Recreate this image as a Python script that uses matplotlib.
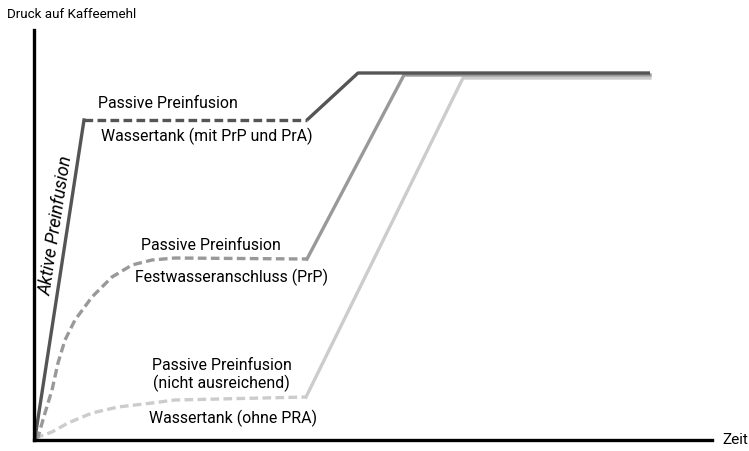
import matplotlib
matplotlib.use('agg')
import matplotlib.pyplot as plt

plt.rcParams['font.family'] = ['Roboto', 'DejaVu Sans']

# chart units: x = time, y = pressure (arbitrary)
# dark: water tank with PrP and PrA
dark_active_x = [1, 50]
dark_active_y = [2, 320]
dark_pass_x = [50, 273]
dark_pass_y = [320, 320]
dark_main_x = [273, 324, 616]
dark_main_y = [320, 367, 367]

# medium: fixed water connection (PrP)
mid_pass_x = [1, 4, 11, 18, 24, 31, 41, 58, 78, 98, 118, 141, 273]
mid_pass_y = [2, 3, 27, 50, 77, 100, 120, 143, 163, 175, 180, 182, 181]
mid_main_x = [273, 370, 616]
mid_main_y = [181, 365, 365]

# light: water tank without PrA
light_pass_x = [1, 4, 18, 34, 58, 84, 118, 141, 272]
light_pass_y = [2, 3, 8, 17, 27, 33, 37, 40, 43]
light_main_x = [272, 429, 616]
light_main_y = [43, 362, 362]

c_dark = '#555555'
c_mid = '#999999'
c_light = '#cccccc'
lw = 2.4
dash = (0, (2.6, 1.3))

fig = plt.figure(figsize=(7.49, 4.51), dpi=100)
ax = fig.add_axes([34/749, 11/451, 678/749, 410/451])
ax.set_xlim(0, 678)
ax.set_ylim(0, 410)

ax.plot(light_pass_x, light_pass_y, color=c_light, lw=lw, ls=dash)
ax.plot(light_main_x, light_main_y, color=c_light, lw=lw)
ax.plot(mid_pass_x, mid_pass_y, color=c_mid, lw=lw, ls=dash)
ax.plot(mid_main_x, mid_main_y, color=c_mid, lw=lw)
ax.plot(dark_pass_x, dark_pass_y, color=c_dark, lw=lw, ls=dash)
ax.plot(dark_main_x, dark_main_y, color=c_dark, lw=lw, solid_capstyle='butt')
ax.plot(dark_active_x, dark_active_y, color=c_dark, lw=lw)

for s in ['top', 'right']:
    ax.spines[s].set_visible(False)
for s in ['left', 'bottom']:
    ax.spines[s].set_linewidth(2.4)
    ax.spines[s].set_color('black')
ax.set_xticks([])
ax.set_yticks([])

fs = 11.4
ax.text(-27, 425, 'Druck auf Kaffeemehl', fontsize=9.6, ha='left', va='center', clip_on=False)
ax.text(688, 0, 'Zeit', fontsize=11, ha='left', va='center', clip_on=False)

ax.text(134, 337, 'Passive Preinfusion', fontsize=fs, ha='center', va='center')
ax.text(173, 304, 'Wassertank (mit PrP und PrA)', fontsize=fs, ha='center', va='center')
ax.text(177, 195, 'Passive Preinfusion', fontsize=fs, ha='center', va='center')
ax.text(198, 163, 'Festwasseranschluss (PrP)', fontsize=fs, ha='center', va='center')
ax.text(188, 75, 'Passive Preinfusion', fontsize=fs, ha='center', va='center')
ax.text(187, 57, '(nicht ausreichend)', fontsize=fs, ha='center', va='center')
ax.text(199, 22, 'Wassertank (ohne PRA)', fontsize=fs, ha='center', va='center')
ax.text(22, 214, 'Aktive Preinfusion', fontsize=13, ha='center', va='center',
        rotation=81.3, style='italic')

fig.savefig('out.png', dpi=100)
